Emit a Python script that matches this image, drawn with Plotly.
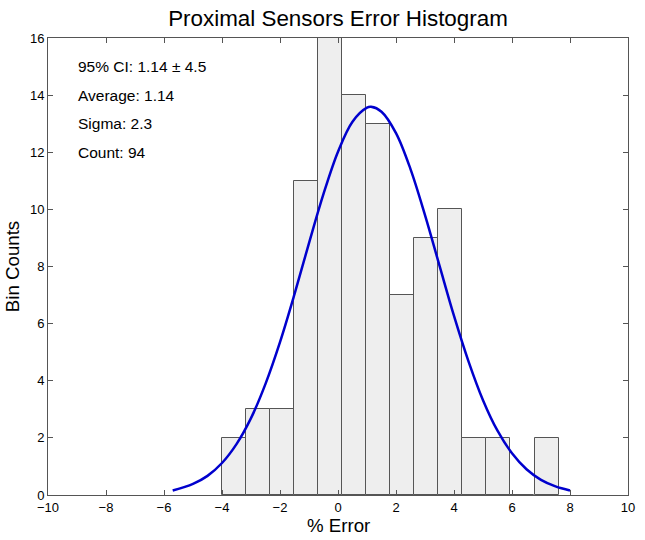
import plotly.graph_objects as go

# Histogram bins (centers) and counts
bin_centers = [-3.59, -2.76, -1.93, -1.10, -0.27, 0.56, 1.39, 2.21, 3.04, 3.87, 4.70, 5.53, 6.36, 7.19]
bin_counts = [2, 3, 3, 11, 16, 14, 13, 7, 9, 10, 2, 2, 0, 2]

# Fitted normal curve
curve_x = [-5.7, -5.0, -4.5, -4.0, -3.5, -3.0, -2.5, -2.0, -1.5, -1.0, -0.5, 0.0, 0.5, 1.0, 1.14,
           1.5, 2.0, 2.5, 3.0, 3.5, 4.0, 4.5, 5.0, 5.5, 6.0, 6.5, 7.0, 7.5, 8.0]
curve_y = [0.16, 0.39, 0.67, 1.12, 1.78, 2.69, 3.89, 5.35, 7.03, 8.82, 10.54, 12.02, 13.07, 13.56, 13.59,
           13.42, 12.67, 11.41, 9.80, 8.03, 6.27, 4.68, 3.32, 2.25, 1.46, 0.90, 0.53, 0.30, 0.16]

stats_text = ["95% CI: 1.14 ± 4.5", "Average: 1.14", "Sigma: 2.3", "Count: 94"]
stats_y = [15, 14, 13, 12]

x_ticks = [-10, -8, -6, -4, -2, 0, 2, 4, 6, 8, 10]
y_ticks = [0, 2, 4, 6, 8, 10, 12, 14, 16]

FONT = "Liberation Sans, Arial, sans-serif"
FRAME = "#555555"

W, H = 645, 540
L, R, T, B = 48, 17, 38, 45
PW, PH = W - L - R, H - T - B

fig = go.Figure()
fig.add_trace(go.Bar(
    x=bin_centers, y=bin_counts, width=0.8286,
    marker=dict(color="#EEEEEE", line=dict(color="#555555", width=1)),
    showlegend=False, hoverinfo="skip"))
fig.add_trace(go.Scatter(
    x=curve_x, y=curve_y, mode="lines",
    line=dict(color="rgb(0,0,205)", width=2.5, shape="spline"),
    showlegend=False))

for t, yv in zip(stats_text, stats_y):
    fig.add_annotation(x=-9.02, y=yv, text=t, showarrow=False, xanchor="left", yanchor="middle",
                       font=dict(family=FONT, size=15.5, color="black"))

# axis titles
fig.add_annotation(xref="paper", yref="paper", x=0.5, y=-30 / PH, text="% Error", showarrow=False,
                   xanchor="center", yanchor="middle", font=dict(family=FONT, size=18.7, color="black"))
fig.add_annotation(xref="paper", yref="paper", x=-(L - 12.7) / PW, y=0.5, text="Bin Counts", showarrow=False,
                   textangle=-90, xanchor="center", yanchor="middle",
                   font=dict(family=FONT, size=18.7, color="black"))

fig.update_layout(
    width=W, height=H,
    margin=dict(l=L, r=R, t=T, b=B),
    paper_bgcolor="white", plot_bgcolor="white",
    bargap=0,
    title=dict(text="Proximal Sensors Error Histogram", x=(L + PW / 2) / W, xanchor="center",
               y=1 - 18 / H, yanchor="middle", font=dict(family=FONT, size=22.4, color="black"),
               automargin=False),
    font=dict(family=FONT, size=13, color="black"),
)
fig.update_xaxes(range=[-10, 10], tickvals=x_ticks, ticks="inside", ticklen=5, tickcolor=FRAME,
                 showline=True, linecolor=FRAME, linewidth=1, mirror="ticks", showgrid=False,
                 zeroline=False, tickfont=dict(family=FONT, size=13), automargin=False)
fig.update_yaxes(range=[0, 16], tickvals=y_ticks, ticks="inside", ticklen=5, tickcolor=FRAME,
                 showline=True, linecolor=FRAME, linewidth=1, mirror="ticks", showgrid=False,
                 zeroline=False, tickfont=dict(family=FONT, size=13), automargin=False)

fig.write_html("out.html", config={"displayModeBar": False},
               post_script="document.body.style.margin='0';document.body.style.overflow='hidden';")
